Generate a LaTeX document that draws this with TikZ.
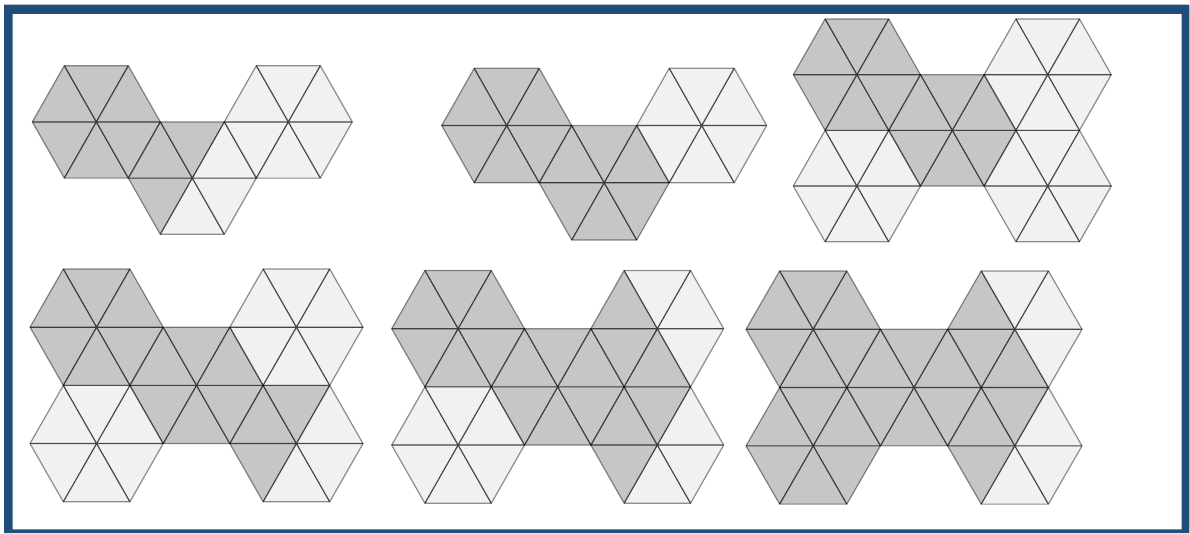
\documentclass[tikz,border=0pt]{standalone}
\usepackage{tikz}
\usepackage{xcolor}
\definecolor{frameblue}{HTML}{1F4E79}
\definecolor{dk}{HTML}{C6C6C6}
\definecolor{lt}{HTML}{F1F1F1}

% one hexagon per entry: net origin x/y (pt), side, row unit, centre u/r, colours of sectors 0..5
\def\netlist{%
  32.3/467.3/64/64.9/2/1/dk/dk/dk/dk/dk/dk,
  32.3/467.3/64/64.9/5/2/lt/dk/dk/dk/lt/lt,
  32.3/467.3/64/64.9/8/1/lt/lt/lt/lt/lt/lt,
  441.7/464.7/65/66.1/2/1/dk/dk/dk/dk/dk/dk,
  441.7/464.7/65/66.1/5/2/dk/dk/dk/dk/dk/dk,
  441.7/464.7/65/66.1/8/1/lt/lt/lt/lt/lt/lt,
  793.3/514/63.6/64.3/2/1/dk/dk/dk/dk/dk/dk,
  793.3/514/63.6/64.3/5/2/dk/dk/dk/dk/dk/dk,
  793.3/514/63.6/64.3/8/1/lt/lt/lt/lt/lt/lt,
  793.3/514/63.6/64.3/2/3/lt/lt/lt/lt/lt/lt,
  793.3/514/63.6/64.3/8/3/lt/lt/lt/lt/lt/lt,
  30/264/66.6/67.2/2/1/dk/dk/dk/dk/dk/dk,
  30/264/66.6/67.2/5/2/dk/dk/dk/dk/dk/dk,
  30/264/66.6/67.2/8/1/lt/lt/lt/lt/lt/lt,
  30/264/66.6/67.2/2/3/lt/lt/lt/lt/lt/lt,
  30/264/66.6/67.2/8/3/lt/dk/dk/dk/lt/lt,
  391.7/262.5/66.4/67.2/2/1/dk/dk/dk/dk/dk/dk,
  391.7/262.5/66.4/67.2/5/2/dk/dk/dk/dk/dk/dk,
  391.7/262.5/66.4/67.2/8/1/lt/lt/dk/dk/dk/lt,
  391.7/262.5/66.4/67.2/2/3/lt/lt/lt/lt/lt/lt,
  391.7/262.5/66.4/67.2/8/3/lt/dk/dk/dk/lt/lt,
  746/262/67.2/67.3/2/1/dk/dk/dk/dk/dk/dk,
  746/262/67.2/67.3/5/2/dk/dk/dk/dk/dk/dk,
  746/262/67.2/67.3/8/1/lt/lt/dk/dk/dk/lt,
  746/262/67.2/67.3/2/3/dk/dk/dk/dk/dk/dk,
  746/262/67.2/67.3/8/3/lt/dk/dk/dk/lt/lt}

\begin{document}
\begin{tikzpicture}[x=1pt, y=1pt,
  rim/.style={draw=black, draw opacity=0.43, line width=1.2pt, line join=round},
  spoke/.style={draw=black, draw opacity=0.7, line width=1.2pt},
]
  \useasboundingbox (0,0) rectangle (1190,533);
  % blue frame
  \fill[frameblue, even odd rule] (4,0) rectangle (1189.3,528.3)
    (12.7,3.7) rectangle (1181.7,519);

  % shaded sectors
  \foreach \fx/\fy/\fa/\fb/\u/\r/\cA/\cB/\cC/\cD/\cE/\cF in \netlist {
    \begin{scope}[shift={(\fx pt,\fy pt)}, x=\fa pt, y=\fb pt]
      \begin{scope}[shift={({\u/2},{-\r*sin(60)})}]
        \foreach \col [count=\k from 0] in {\cA,\cB,\cC,\cD,\cE,\cF}
          \fill[fill=\col] (0,0) -- ({60*\k}:1) -- ({60*\k+60}:1) -- cycle;
      \end{scope}
    \end{scope}
  }
  % edges
  \foreach \fx/\fy/\fa/\fb/\u/\r/\cA/\cB/\cC/\cD/\cE/\cF in \netlist {
    \begin{scope}[shift={(\fx pt,\fy pt)}, x=\fa pt, y=\fb pt]
      \begin{scope}[shift={({\u/2},{-\r*sin(60)})}]
        \draw[rim] (0:1) -- (60:1) -- (120:1) -- (180:1) -- (240:1) -- (300:1) -- cycle;
        \draw[spoke] (0:1) -- (180:1) (60:1) -- (240:1) (120:1) -- (300:1);
      \end{scope}
    \end{scope}
  }
\end{tikzpicture}
\end{document}
